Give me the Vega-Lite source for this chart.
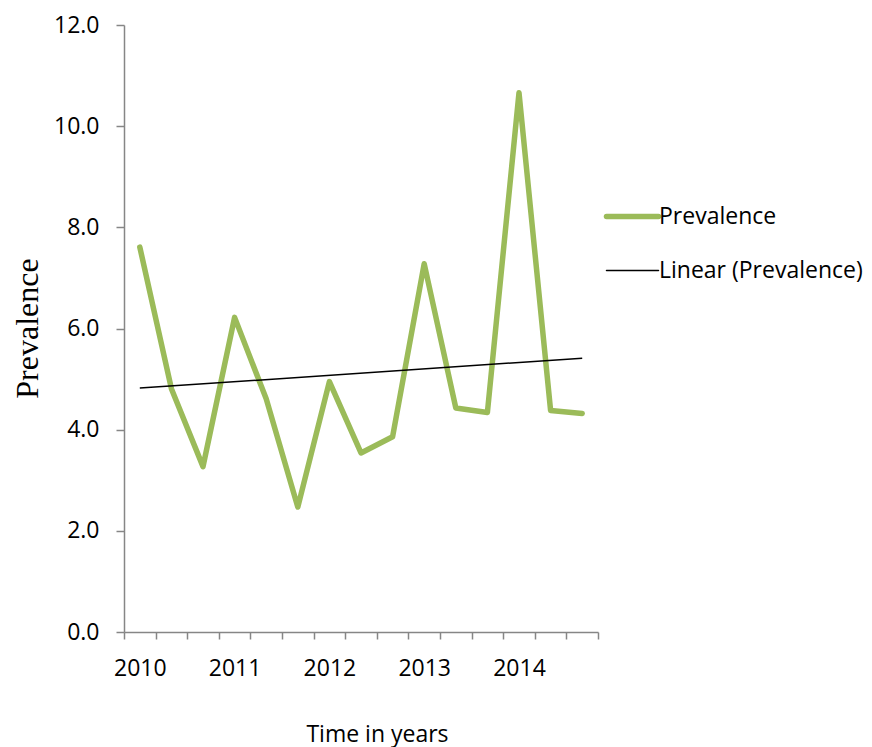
{
  "$schema": "https://vega.github.io/schema/vega-lite/v6.json",
  "width": 474,
  "height": 607,
  "autosize": {"type": "none"},
  "padding": {"left": 124, "top": 25, "right": 274, "bottom": 115},
  "background": "white",
  "config": {
    "view": {"stroke": null},
    "font": "Open Sans",
    "axis": {"grid": false}
  },
  "data": {
    "values": [
      {"t": 1, "prevalence": 7.61},
      {"t": 2, "prevalence": 4.81},
      {"t": 3, "prevalence": 3.27},
      {"t": 4, "prevalence": 6.22},
      {"t": 5, "prevalence": 4.61},
      {"t": 6, "prevalence": 2.47},
      {"t": 7, "prevalence": 4.95},
      {"t": 8, "prevalence": 3.54},
      {"t": 9, "prevalence": 3.86},
      {"t": 10, "prevalence": 7.28},
      {"t": 11, "prevalence": 4.43},
      {"t": 12, "prevalence": 4.34},
      {"t": 13, "prevalence": 10.66},
      {"t": 14, "prevalence": 4.38},
      {"t": 15, "prevalence": 4.32}
    ]
  },
  "encoding": {
    "x": {
      "field": "t",
      "type": "quantitative",
      "scale": {"domain": [0.5, 15.5], "nice": false, "zero": false},
      "axis": {
        "values": [0.5, 1.5, 2.5, 3.5, 4.5, 5.5, 6.5, 7.5, 8.5, 9.5, 10.5, 11.5, 12.5, 13.5, 14.5, 15.5],
        "labelExpr": "(datum.value - 0.5) % 3 == 0 && datum.value < 15 ? '' + (2010 + (datum.value - 0.5) / 3) : ''",
        "labelOffset": 15.8,
        "labelOverlap": false,
        "labelFlush": false,
        "labelBound": false,
        "labelFontSize": 23,
        "labelColor": "#000000",
        "labelBaseline": "alphabetic",
        "labelPadding": 36,
        "tickSize": 7,
        "tickColor": "#868686",
        "domainColor": "#868686",
        "domainWidth": 1.5,
        "tickWidth": 1.5,
        "title": "Time in years",
        "titleFontSize": 23,
        "titleFontWeight": "normal",
        "titleColor": "#000000",
        "titleBaseline": "alphabetic",
        "titleAnchor": "start",
        "titleAlign": "center",
        "titleX": 253,
        "titleY": 109
      }
    },
    "y": {
      "field": "prevalence",
      "type": "quantitative",
      "scale": {"domain": [0, 12], "nice": false},
      "axis": {
        "values": [0, 2, 4, 6, 8, 10, 12],
        "format": ".1f",
        "labelFontSize": 23,
        "labelColor": "#000000",
        "labelPadding": 17,
        "tickSize": 8,
        "tickColor": "#868686",
        "domainColor": "#868686",
        "domainWidth": 1.5,
        "tickWidth": 1.5,
        "title": "Prevalence",
        "titleFont": "Liberation Serif",
        "titleFontSize": 32,
        "titleFontWeight": "normal",
        "titleColor": "#000000",
        "titleBaseline": "alphabetic",
        "titleAlign": "center",
        "titleAngle": 270,
        "titleX": -87,
        "titleY": 303
      }
    }
  },
  "layer": [
    {
      "mark": {"type": "line", "strokeWidth": 5.5, "strokeCap": "round", "strokeJoin": "round"},
      "encoding": {
        "color": {
          "datum": "Prevalence",
          "type": "nominal",
          "scale": {"domain": ["Prevalence", "Linear (Prevalence)"], "range": ["#9BBB59", "#000000"]},
          "legend": {
            "title": null,
            "orient": "none",
            "legendX": 497,
            "legendY": 180,
            "padding": 0,
            "symbolType": "stroke",
            "symbolSize": 2704,
            "symbolStrokeWidth": 5,
            "labelFontSize": 23,
            "labelColor": "#000000",
            "labelOffset": 15,
            "labelLimit": 400,
            "rowPadding": 30,
            "encode": {
              "symbols": {
                "update": {
                  "strokeWidth": {"signal": "datum.value === 'Prevalence' ? 5.5 : 1.5"},
                  "strokeCap": {"value": "round"}
                }
              }
            }
          }
        }
      }
    },
    {
      "transform": [{"regression": "prevalence", "on": "t"}],
      "mark": {"type": "line", "strokeWidth": 1.5},
      "encoding": {
        "color": {"datum": "Linear (Prevalence)", "type": "nominal"}
      }
    }
  ]
}
